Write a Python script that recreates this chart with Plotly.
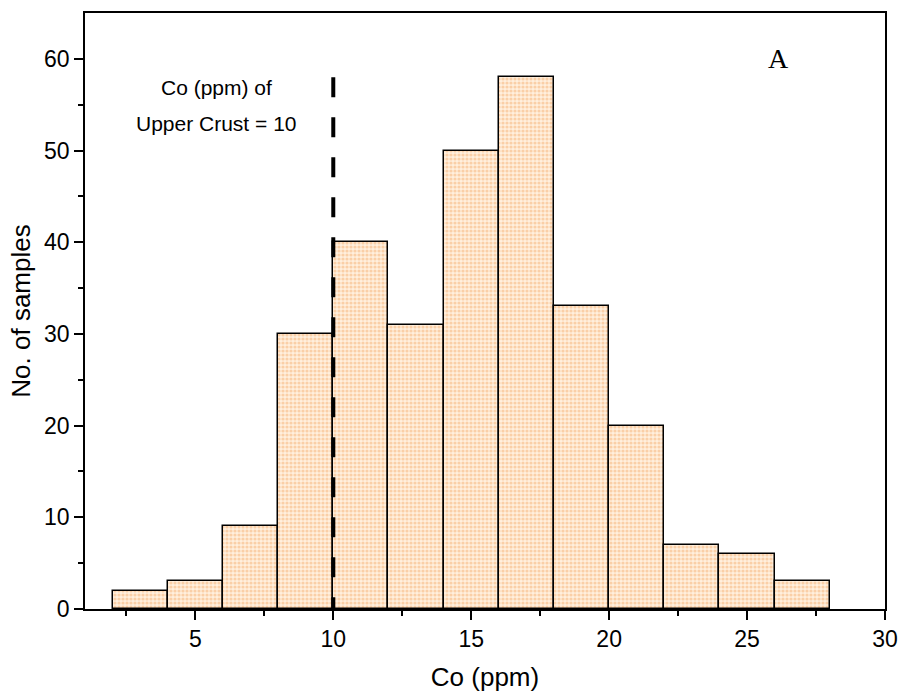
import plotly.graph_objects as go

bin_left = [2, 4, 6, 8, 10, 12, 14, 16, 18, 20, 22, 24, 26]
bin_width = 2
counts = [2, 3, 9, 30, 40, 31, 50, 58, 33, 20, 7, 6, 3]
upper_crust_co = 10
ref_line_top = 58

x_centers = [b + bin_width / 2 for b in bin_left]

fig = go.Figure()
fig.add_trace(go.Bar(
    x=x_centers, y=counts, width=bin_width,
    marker=dict(
        color="#FFEFDD",
        line=dict(color="black", width=1.5),
        pattern=dict(shape=".", fgcolor="#F6B072", bgcolor="#FFEFDD", size=4, solidity=0.5, fillmode="overlay"),
    ),
    showlegend=False,
))
fig.add_trace(go.Scatter(
    x=[upper_crust_co, upper_crust_co], y=[ref_line_top, 0], mode="lines",
    line=dict(color="black", width=4, dash="20px,20px"),
    showlegend=False,
))

fig.add_annotation(x=5.75, y=56.9, text="Co (ppm) of", showarrow=False,
                   font=dict(family="Liberation Sans, Arial", size=21, color="black"))
fig.add_annotation(x=5.75, y=52.9, text="Upper Crust = 10", showarrow=False,
                   font=dict(family="Liberation Sans, Arial", size=21, color="black"))
fig.add_annotation(x=26.14, y=60.0, text="A", showarrow=False,
                   font=dict(family="Liberation Serif, Times New Roman", size=28, color="black"))

axis_font = dict(family="Liberation Sans, Arial", size=23, color="black")
title_font = dict(family="Liberation Sans, Arial", size=26, color="black")
fig.update_layout(
    width=909, height=698,
    margin=dict(l=85, r=20, t=11, b=89),
    plot_bgcolor="white", paper_bgcolor="white",
    bargap=0,
    xaxis=dict(
        range=[1, 30], tickvals=[5, 10, 15, 20, 25, 30],
        showline=True, linecolor="black", linewidth=1.5, mirror=True,
        ticks="outside", ticklen=9, tickwidth=1.5, tickcolor="black",
        minor=dict(tickvals=[2.5, 7.5, 12.5, 17.5, 22.5, 27.5], ticks="outside", ticklen=5, tickwidth=1.5, tickcolor="black"),
        showgrid=False, zeroline=False, tickfont=axis_font,
        title=dict(text="Co (ppm)", font=title_font, standoff=16),
    ),
    yaxis=dict(
        range=[0, 65], tickvals=[0, 10, 20, 30, 40, 50, 60],
        showline=True, linecolor="black", linewidth=1.5, mirror=True,
        ticks="outside", ticklen=9, tickwidth=1.5, tickcolor="black",
        minor=dict(tickvals=[5, 15, 25, 35, 45, 55], ticks="outside", ticklen=5, tickwidth=1.5, tickcolor="black"),
        showgrid=False, zeroline=False, tickfont=axis_font,
        title=dict(text="No. of samples", font=title_font, standoff=6),
    ),
)
fig.write_html("out.html")
